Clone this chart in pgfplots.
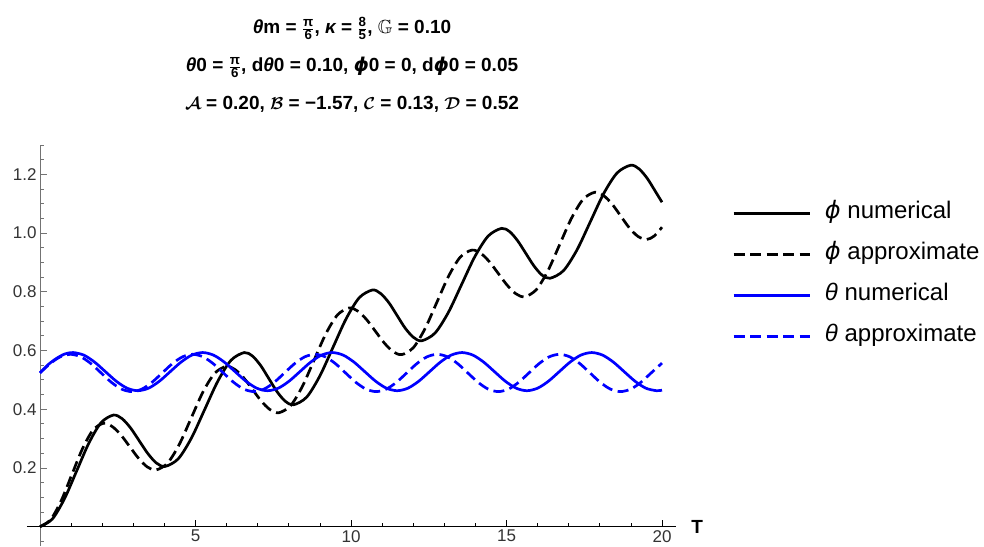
\documentclass[border=0pt]{standalone}
\usepackage{amsmath,amssymb}
\usepackage{fontspec}
\setmainfont{Liberation Sans}
\newfontfamily\dejavu{DejaVu Sans}
\usepackage{pgfplots}
\pgfplotsset{compat=1.18}
\definecolor{mblue}{rgb}{0,0,1}
\newcommand{\fr}[2]{$\frac{\text{\bfseries #1}}{\text{\bfseries #2}}$}
\newcommand{\vphi}{{\dejavu\itshape ϕ}}
\begin{document}
\begin{tikzpicture}
\useasboundingbox (0pt,0pt) rectangle (984pt,546pt);
\node[anchor=base, font=\fontsize{19}{19}\selectfont\bfseries] at (352pt,512.7pt) {{\itshape θ}m = \fr{π}{6}, {\itshape κ} = \fr{8}{5}, $\mathbb{G}$ = 0.10};
\node[anchor=base, font=\fontsize{19}{19}\selectfont\bfseries] at (352pt,474.3pt) {{\itshape θ}0 = \fr{π}{6}, d{\itshape θ}0 = 0.10, \vphi0 = 0, d\vphi0 = 0.05};
\node[anchor=base, font=\fontsize{19}{19}\selectfont\bfseries] at (352pt,436pt) {$\boldsymbol{\mathcal{A}}$ = 0.20, $\boldsymbol{\mathcal{B}}$ = −1.57, $\boldsymbol{\mathcal{C}}$ = 0.13, $\boldsymbol{\mathcal{D}}$ = 0.52};
\begin{axis}[
  at={(27pt,0pt)}, anchor=south west,
  scale only axis, width=649pt, height=401pt,
  xmin=-0.418, xmax=20.45, ymin=-0.066, ymax=1.3,
  axis x line=middle, axis y line=middle,
  axis line style={-},
  x axis line style={black, line width=0.9pt},
  y axis line style={black!55, line width=0.9pt},
  xtick={5,10,15,20},
  minor xtick={1,2,3,4,6,7,8,9,11,12,13,14,16,17,18,19},
  ytick={0.2,0.4,0.6,0.8,1.0,1.2},
  minor ytick={-0.05,0.05,0.1,0.15,0.25,0.3,0.35,0.45,0.5,0.55,0.65,0.7,0.75,0.85,0.9,0.95,1.05,1.1,1.15,1.25,1.3},
  tick align=inside,
  major tick length=7pt, minor tick length=4pt,
  xtick style={black, line width=0.8pt},
  ytick style={black!55, line width=0.8pt},
  /pgf/number format/assume math mode=true,
  yticklabel style={/pgf/number format/.cd, fixed, fixed zerofill, precision=1},
  ticklabel style={font=\fontsize{17}{17}\selectfont, text=black!80},
  xlabel={T},
  xlabel style={at={(current axis.right of origin)}, anchor=west, inner sep=0pt, xshift=15pt, font=\fontsize{19}{19}\selectfont\bfseries},
  legend style={at={(axis description cs:1.0863,0.859)}, anchor=north west, draw=none, fill=none, inner sep=0pt,
    font=\fontsize{24}{24}\selectfont, row sep=18pt, column sep=14pt,
    nodes={inner sep=0pt, text height=17pt, text depth=6pt}, cells={anchor=west}},
  legend image code/.code={\draw[#1] (0pt,0pt) -- (76pt,0pt);},
]
\addplot[black, line width=2.7pt, smooth] coordinates {
(0,0) (0.393,0.0255) (0.787,0.095) (1.18,0.19) (1.573,0.285) (1.967,0.3545) (2.36,0.380)
(2.637,0.368) (2.913,0.336) (3.19,0.2925) (3.467,0.249) (3.743,0.2167) (4.02,0.205)
(4.445,0.231) (4.87,0.302) (5.295,0.399) (5.72,0.496) (6.145,0.567) (6.57,0.593)
(6.833,0.581) (7.097,0.5485) (7.36,0.504) (7.623,0.4595) (7.887,0.427) (8.15,0.415)
(8.573,0.441) (8.997,0.513) (9.42,0.6105) (9.843,0.708) (10.267,0.780) (10.69,0.806)
(10.953,0.794) (11.217,0.763) (11.48,0.7195) (11.743,0.676) (12.007,0.645) (12.27,0.633)
(12.698,0.659) (13.127,0.729) (13.555,0.8245) (13.983,0.920) (14.412,0.990) (14.84,1.016)
(15.10,1.005) (15.36,0.9735) (15.62,0.931) (15.88,0.8885) (16.14,0.857) (16.40,0.846)
(16.832,0.872) (17.263,0.942) (17.695,1.0385) (18.127,1.135) (18.558,1.205) (18.99,1.231)
(19.258,1.219) (19.527,1.186) (19.795,1.1405) (20,1.105)};
\addlegendentry{\vphi\ numerical}
\addplot[black, line width=2.7pt, smooth, dash pattern=on 11pt off 5.5pt] coordinates {
(0,0) (0.34,0.0236) (0.68,0.088) (1.02,0.176) (1.36,0.264) (1.70,0.3284) (2.04,0.352)
(2.322,0.341) (2.603,0.312) (2.885,0.2725) (3.167,0.233) (3.448,0.2035) (3.73,0.193)
(4.107,0.217) (4.483,0.281) (4.86,0.3695) (5.237,0.458) (5.613,0.522) (5.99,0.546)
(6.272,0.535) (6.553,0.5065) (6.835,0.467) (7.117,0.4275) (7.398,0.3985) (7.68,0.388)
(8.057,0.412) (8.433,0.477) (8.81,0.5665) (9.187,0.656) (9.563,0.721) (9.94,0.745)
(10.222,0.734) (10.503,0.705) (10.785,0.6655) (11.067,0.626) (11.348,0.5965) (11.63,0.586)
(12.007,0.610) (12.383,0.675) (12.76,0.764) (13.137,0.853) (13.513,0.918) (13.89,0.942)
(14.172,0.931) (14.453,0.902) (14.735,0.8625) (15.017,0.823) (15.298,0.7935) (15.58,0.783)
(15.957,0.807) (16.333,0.872) (16.71,0.961) (17.087,1.050) (17.463,1.115) (17.84,1.139)
(18.117,1.128) (18.393,1.099) (18.67,1.0585) (18.947,1.018) (19.223,0.989) (19.50,0.978)
(19.75,0.990) (20,1.020)};
\addlegendentry{\vphi\ approximate}
\addplot[mblue, line width=2.7pt, smooth] coordinates {
(0,0.524) (0.265,0.552) (0.53,0.573) (0.795,0.588) (1.06,0.593)
(1.4075,0.5843) (1.755,0.5605) (2.1025,0.528) (2.45,0.4955) (2.7975,0.4717) (3.145,0.463)
(3.4925,0.4717) (3.84,0.4955) (4.1875,0.528) (4.535,0.5605) (4.8825,0.5843) (5.23,0.593)
(5.5775,0.5843) (5.925,0.5605) (6.2725,0.528) (6.62,0.4955) (6.9675,0.4717) (7.315,0.463)
(7.6625,0.4717) (8.01,0.4955) (8.3575,0.528) (8.705,0.5605) (9.0525,0.5843) (9.40,0.593)
(9.7475,0.5843) (10.095,0.5605) (10.4425,0.528) (10.79,0.4955) (11.1375,0.4717) (11.485,0.463)
(11.8325,0.4717) (12.18,0.4955) (12.5275,0.528) (12.875,0.5605) (13.2225,0.5843) (13.57,0.593)
(13.9175,0.5843) (14.265,0.5605) (14.6125,0.528) (14.96,0.4955) (15.3075,0.4717) (15.655,0.463)
(16.0025,0.4717) (16.35,0.4955) (16.6975,0.528) (17.045,0.5605) (17.3925,0.5843) (17.74,0.593)
(18.0875,0.5843) (18.435,0.5605) (18.7825,0.528) (19.13,0.4955) (19.4775,0.4717) (19.825,0.463)
(20,0.465)};
\addlegendentry{{\itshape θ} numerical}
\addplot[mblue, line width=2.7pt, smooth, dash pattern=on 11pt off 5.5pt] coordinates {
(0,0.5236) (0.3275,0.5554) (0.655,0.5786) (0.983,0.587)
(1.3105,0.5785) (1.638,0.5553) (1.9655,0.5235) (2.293,0.4918) (2.6205,0.4685) (2.948,0.460)
(3.2755,0.4685) (3.603,0.4918) (3.9305,0.5235) (4.258,0.5553) (4.5855,0.5785) (4.913,0.587)
(5.2405,0.5785) (5.568,0.5553) (5.8955,0.5235) (6.223,0.4918) (6.5505,0.4685) (6.878,0.460)
(7.2055,0.4685) (7.533,0.4918) (7.8605,0.5235) (8.188,0.5553) (8.5155,0.5785) (8.843,0.587)
(9.1705,0.5785) (9.498,0.5553) (9.8255,0.5235) (10.153,0.4918) (10.4805,0.4685) (10.808,0.460)
(11.1355,0.4685) (11.463,0.4918) (11.7905,0.5235) (12.118,0.5553) (12.4455,0.5785) (12.773,0.587)
(13.1005,0.5785) (13.428,0.5553) (13.7555,0.5235) (14.083,0.4918) (14.4105,0.4685) (14.738,0.460)
(15.0655,0.4685) (15.393,0.4918) (15.7205,0.5235) (16.048,0.5553) (16.3755,0.5785) (16.703,0.587)
(17.0305,0.5785) (17.358,0.5553) (17.6855,0.5235) (18.013,0.4918) (18.3405,0.4685) (18.668,0.460)
(18.9955,0.4685) (19.323,0.4918) (19.6505,0.5235) (20,0.557)};
\addlegendentry{{\itshape θ} approximate}
\end{axis}
\end{tikzpicture}
\end{document}
